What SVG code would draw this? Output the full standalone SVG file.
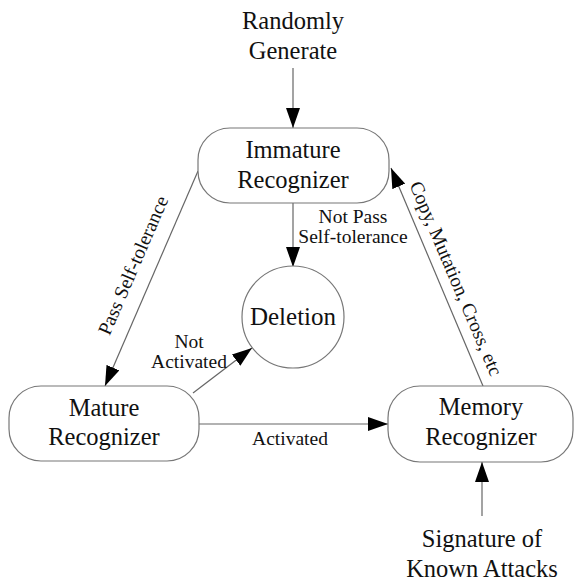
<svg xmlns="http://www.w3.org/2000/svg" width="574" height="581" viewBox="0 0 574 581">
<style>
.box{fill:#fff;stroke:#777;stroke-width:1.2}
.ln{stroke:#666;stroke-width:1.2;fill:none;marker-end:url(#ah)}
</style>
<defs>
<marker id="ah" markerUnits="userSpaceOnUse" markerWidth="20" markerHeight="14" refX="20" refY="7" orient="auto">
<path d="M0,0 L20,7 L0,14 Z" fill="#000"/>
</marker>
</defs>
<g id="connectors">
<line class="ln" x1="293" y1="68" x2="293" y2="128"/>
<line class="ln" x1="293" y1="203" x2="293" y2="267"/>
<line class="ln" x1="198" y1="171" x2="105" y2="386"/>
<line class="ln" x1="483" y1="386" x2="391" y2="168"/>
<line class="ln" x1="193" y1="393" x2="252" y2="348"/>
<line class="ln" x1="199" y1="424" x2="388" y2="424"/>
<line class="ln" x1="482" y1="516" x2="482" y2="462"/>
<g font-family="Liberation Serif" font-size="19.5" fill="#111" text-anchor="middle">
<text x="353" y="223" font-family="Liberation Serif">Not Pass</text>
<text x="353" y="243" font-family="Liberation Serif">Self-tolerance</text>
<text x="189" y="348" font-family="Liberation Serif">Not</text>
<text x="189" y="368" font-family="Liberation Serif">Activated</text>
<text x="290" y="445" font-family="Liberation Serif">Activated</text>
<text transform="translate(139,268) rotate(-66.6)" font-family="Liberation Serif">Pass Self-tolerance</text>
<text transform="translate(450,281) rotate(67)" font-family="Liberation Serif">Copy, Mutation, Cross, etc</text>
</g>
</g>
<g id="randomly" font-family="Liberation Serif" font-size="24.5" fill="#111" text-anchor="middle">
<text x="293" y="29" font-family="Liberation Serif">Randomly</text>
<text x="293" y="59" font-family="Liberation Serif">Generate</text>
</g>
<g id="immature" font-family="Liberation Serif" font-size="24.5" fill="#111" text-anchor="middle">
<rect class="box" x="198" y="128" width="191" height="75" rx="32"/>
<text x="293" y="158" font-family="Liberation Serif">Immature</text>
<text x="293" y="188" font-family="Liberation Serif">Recognizer</text>
</g>
<g id="deletion" font-family="Liberation Serif" font-size="25" fill="#111" text-anchor="middle">
<circle class="box" cx="293" cy="317" r="51"/>
<text x="293" y="325" font-family="Liberation Serif">Deletion</text>
</g>
<g id="mature" font-family="Liberation Serif" font-size="24.5" fill="#111" text-anchor="middle">
<rect class="box" x="9" y="386" width="190" height="75" rx="32"/>
<text x="104" y="416" font-family="Liberation Serif">Mature</text>
<text x="104" y="445" font-family="Liberation Serif">Recognizer</text>
</g>
<g id="memory" font-family="Liberation Serif" font-size="24.5" fill="#111" text-anchor="middle">
<rect class="box" x="388" y="386" width="185" height="76" rx="32"/>
<text x="481" y="415" font-family="Liberation Serif">Memory</text>
<text x="481" y="445" font-family="Liberation Serif">Recognizer</text>
</g>
<g id="signature" font-family="Liberation Serif" font-size="24.5" fill="#111" text-anchor="middle">
<text x="482" y="547" font-family="Liberation Serif">Signature of</text>
<text x="482" y="577" font-family="Liberation Serif">Known Attacks</text>
</g>
</svg>
